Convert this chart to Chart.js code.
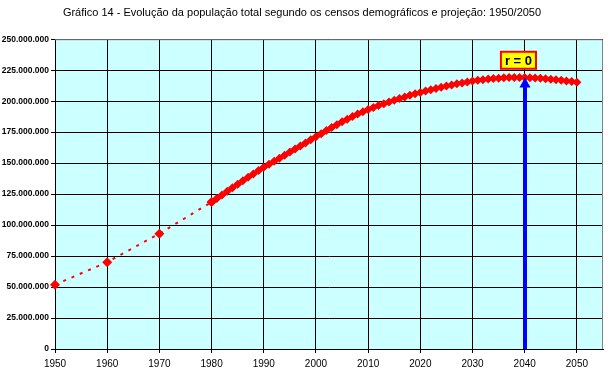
<!DOCTYPE html>
<html>
<head>
<meta charset="utf-8">
<script src="https://cdn.jsdelivr.net/npm/chart.js@4.4.1/dist/chart.umd.min.js"></script>
<style>
    html, body { margin: 0; padding: 0; background: #fff; }
    canvas { display: block; }
</style>
</head>
<body>
<canvas id="chart" width="608" height="372"></canvas>
<script>
// censos demográficos (milhões de habitantes)
const censusYears = [1950, 1960, 1970, 1980];
const censusPop = [51.9, 70.1, 93.1, 118.6];

// projeção anual 1980-2050 (milhões)
const projYears = [
    1980, 1981, 1982, 1983, 1984, 1985, 1986, 1987, 1988, 1989,
    1990, 1991, 1992, 1993, 1994, 1995, 1996, 1997, 1998, 1999,
    2000, 2001, 2002, 2003, 2004, 2005, 2006, 2007, 2008, 2009,
    2010, 2011, 2012, 2013, 2014, 2015, 2016, 2017, 2018, 2019,
    2020, 2021, 2022, 2023, 2024, 2025, 2026, 2027, 2028, 2029,
    2030, 2031, 2032, 2033, 2034, 2035, 2036, 2037, 2038, 2039,
    2040, 2041, 2042, 2043, 2044, 2045, 2046, 2047, 2048, 2049,
    2050
];
const projPop = [
    118.6, 121.4, 124.3, 127.2, 130.1, 133.0, 135.8, 138.55, 141.25, 143.95,
    146.6, 149.1, 151.55, 154.0, 156.45, 158.9, 161.35, 163.8, 166.3, 168.8,
    171.3, 173.8, 176.25, 178.65, 181.0, 183.3, 185.5, 187.6, 189.6, 191.5,
    193.3, 194.9, 196.45, 197.95, 199.4, 200.8, 202.15, 203.45, 204.7, 205.9,
    207.05, 208.15, 209.25, 210.25, 211.25, 212.2, 213.1, 213.95, 214.75, 215.5,
    216.2, 216.8, 217.35, 217.8, 218.2, 218.55, 218.8, 219.0, 219.1, 219.15,
    219.1, 218.95, 218.75, 218.45, 218.1, 217.7, 217.3, 216.85, 216.35, 215.85,
    215.3
];

// marcação do crescimento nulo
const zeroYear = 2040;
const zeroPop = 219.1;
const zeroLabel = "r = 0";
const zeroLabelYear = 2038.8;
const zeroLabelPop = 233;

const titleText = "Gráfico 14 - Evolução da população total segundo os censos demográficos e projeção: 1950/2050";

const toPoints = (xs, ys) => xs.map((x, i) => ({ x: x, y: ys[i] }));

const plotArea = {
    id: "plotArea",
    beforeDraw(chart) {
        const { ctx, chartArea: a } = chart;
        ctx.save();
        ctx.fillStyle = "#CCFFFF";
        ctx.fillRect(a.left, a.top, a.right - a.left, a.bottom - a.top);
        ctx.restore();
    },
    beforeDatasetsDraw(chart) {
        const { ctx, chartArea: a } = chart;
        ctx.save();
        ctx.strokeStyle = "#808080";
        ctx.lineWidth = 1;
        ctx.beginPath();
        ctx.moveTo(a.left, a.top + 0.5);
        ctx.lineTo(a.right - 0.5, a.top + 0.5);
        ctx.lineTo(a.right - 0.5, a.bottom);
        ctx.stroke();
        ctx.restore();
    }
};

const zeroArrow = {
    id: "zeroArrow",
    afterDatasetsDraw(chart) {
        const { ctx, scales } = chart;
        const x = Math.round(scales.x.getPixelForValue(zeroYear));
        const yTip = scales.y.getPixelForValue(zeroPop);
        const yBase = scales.y.getPixelForValue(0);
        ctx.save();
        ctx.strokeStyle = "#0000FF";
        ctx.fillStyle = "#0000FF";
        ctx.lineWidth = 4;
        ctx.beginPath();
        ctx.moveTo(x, yBase);
        ctx.lineTo(x, yTip + 8);
        ctx.stroke();
        ctx.beginPath();
        ctx.moveTo(x, yTip);
        ctx.lineTo(x - 5.5, yTip + 10);
        ctx.lineTo(x + 5.5, yTip + 10);
        ctx.closePath();
        ctx.fill();

        const lx = scales.x.getPixelForValue(zeroLabelYear);
        const ly = scales.y.getPixelForValue(zeroLabelPop);
        ctx.font = "bold 13px 'Liberation Sans', Arial, sans-serif";
        const w = ctx.measureText(zeroLabel).width + 8;
        const h = 17;
        ctx.fillStyle = "#FFFF00";
        ctx.fillRect(lx - w / 2, ly - h / 2, w, h);
        ctx.strokeStyle = "#FF0000";
        ctx.lineWidth = 2;
        ctx.strokeRect(lx - w / 2, ly - h / 2, w, h);
        ctx.fillStyle = "#000";
        ctx.textAlign = "center";
        ctx.textBaseline = "middle";
        ctx.fillText(zeroLabel, lx, ly + 1);
        ctx.restore();
    }
};

new Chart(document.getElementById("chart"), {
    type: "scatter",
    data: {
        datasets: [{
            label: "Censos",
            data: toPoints(censusYears, censusPop),
            showLine: true,
            clip: false,
            borderColor: "#FF0000",
            borderWidth: 2,
            borderDash: [3, 6],
            backgroundColor: "#FF0000",
            pointStyle: "rectRot",
            pointRadius: 5,
            pointBorderWidth: 0,
        }, {
            label: "Projeção",
            data: toPoints(projYears, projPop),
            showLine: true,
            clip: false,
            borderColor: "#FF0000",
            borderWidth: 2,
            backgroundColor: "#FF0000",
            pointStyle: "rectRot",
            pointRadius: 4.5,
            pointBorderWidth: 0,
        }]
    },
    options: {
        responsive: false,
        devicePixelRatio: 1,
        animation: false,
        layout: { padding: { left: 0, right: 4, top: 0, bottom: 0 } },
        plugins: {
            legend: { display: false },
            tooltip: { enabled: false },
            title: {
                display: true,
                text: titleText,
                color: "#000",
                font: { family: "'Liberation Sans', Arial, sans-serif", size: 11, weight: "normal", lineHeight: 1.2 },
                padding: { top: 6, bottom: 20 }
            }
        },
        scales: {
            x: {
                type: "linear",
                min: 1950,
                max: 2055,
                afterFit: s => { s.height = 23; },
                ticks: {
                    stepSize: 10,
                    includeBounds: false,
                    color: "#000",
                    padding: 5,
                    maxRotation: 0,
                    font: { family: "'Liberation Sans', Arial, sans-serif", size: 10 },
                    callback: v => String(v)
                },
                grid: { color: "#000", lineWidth: 1, tickLength: 4, drawOnChartArea: true },
                border: { color: "#000", width: 1 }
            },
            y: {
                min: 0,
                max: 250,
                afterFit: s => { s.width = 55; },
                ticks: {
                    stepSize: 25,
                    color: "#000",
                    padding: 2,
                    font: { family: "'Liberation Sans', Arial, sans-serif", size: 8.5, weight: "bold" },
                    callback: v => (v * 1000000).toLocaleString("pt-BR")
                },
                grid: { color: "#000", lineWidth: 1, tickLength: 4 },
                border: { color: "#000", width: 1 }
            }
        }
    },
    plugins: [plotArea, zeroArrow]
});
</script>
</body>
</html>
